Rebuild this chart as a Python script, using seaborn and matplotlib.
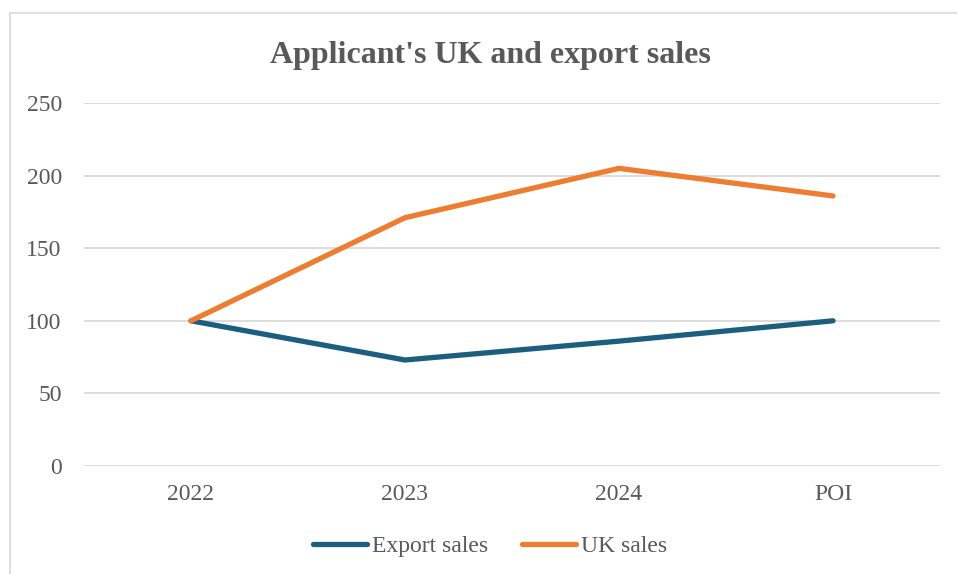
import matplotlib
matplotlib.use("Agg")
import matplotlib.pyplot as plt
from matplotlib.lines import Line2D
import seaborn as sns
import pandas as pd

periods = ["2022", "2023", "2024", "POI"]
export_sales = [100, 73, 86, 100]
uk_sales = [100, 171, 205, 186]
series_names = ["Export sales", "UK sales"]
colors = ["#1B5E80", "#ED7D31"]
y_ticks = [0, 50, 100, 150, 200, 250]

df = pd.DataFrame({
    "period": periods * 2,
    "value": export_sales + uk_sales,
    "series": [series_names[0]] * 4 + [series_names[1]] * 4,
})
df["pos"] = list(range(4)) * 2

sns.set_theme(style="white")
plt.rcParams["font.family"] = ["Liberation Serif", "DejaVu Serif"]

W, H = 957, 574
fig = plt.figure(figsize=(W / 100, H / 100), dpi=100)
ax = fig.add_axes([84 / W, 1 - 466 / H, (940 - 84) / W, (466 - 103) / H])

sns.lineplot(data=df, x="pos", y="value", hue="series", palette=colors,
             linewidth=3.8, ax=ax, legend=False, sort=False,
             solid_capstyle="round", solid_joinstyle="miter")

ax.set_xlim(-0.5, 3.5)
ax.set_ylim(0, 250)
ax.set_yticks(y_ticks)
ax.set_xticks(range(4))
ax.set_xticklabels(periods)
ax.set_xlabel("")
ax.set_ylabel("")
ax.grid(axis="y", color="#D9D9D9", linewidth=1.3)
ax.set_axisbelow(True)
for s in ax.spines.values():
    s.set_visible(False)
ax.tick_params(axis="both", length=0, labelsize=17, colors="#595959")
ax.tick_params(axis="y", pad=16)
ax.tick_params(axis="x", pad=13)

fig.text(490 / W, 1 - 56 / H, "Applicant's UK and export sales",
         ha="center", va="center", fontsize=23, fontweight="bold",
         color="#595959")

handles = [Line2D([0], [0], color=c, linewidth=3.8, solid_capstyle="round")
           for c in colors]
fig.legend(handles, series_names, loc="center", bbox_to_anchor=(490 / W, 1 - 546 / H),
           ncol=2, frameon=False, fontsize=17, handlelength=2.3,
           handletextpad=0.2, columnspacing=1.45, labelcolor="#595959")

# chart-area border
fig.add_artist(Line2D([10 / W, 10 / W], [0, 1 - 13 / H], transform=fig.transFigure,
                      color="#D9D9D9", linewidth=1.2))
fig.add_artist(Line2D([10 / W, 1], [1 - 13 / H, 1 - 13 / H], transform=fig.transFigure,
                      color="#D9D9D9", linewidth=1.2))

fig.savefig("out.png", dpi=100)
